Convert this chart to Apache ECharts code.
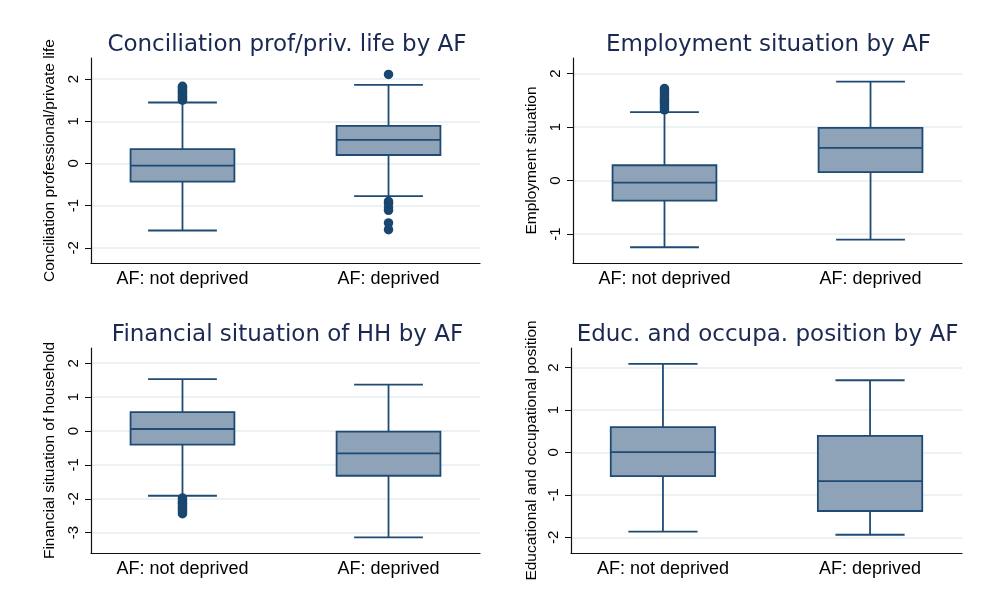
<!DOCTYPE html>
<html>
<head>
<meta charset="utf-8">
<script src="https://cdn.jsdelivr.net/npm/echarts@6/dist/echarts.min.js"></script>
<style>
html,body{margin:0;padding:0;background:#fff;}
#chart{width:996px;height:607px;}
</style>
</head>
<body>
<div id="chart"></div>
<script>
// ---- data ----
const categories = ['AF: not deprived', 'AF: deprived'];

const panelTitles = [
  'Conciliation prof/priv. life by AF',
  'Employment situation by AF',
  'Financial situation of HH by AF',
  'Educ. and occupa. position by AF'
];
const yTitles = [
  'Conciliation professional/private life',
  'Employment situation',
  'Financial situation of household',
  'Educational and occupational position'
];

// box stats per group: [lower whisker, Q1, median, Q3, upper whisker]
const concilStats = [[-1.59, -0.43, -0.05, 0.34, 1.445], [-0.775, 0.20, 0.56, 0.89, 1.865]];
const employStats = [[-1.246, -0.374, -0.037, 0.286, 1.277], [-1.103, 0.156, 0.611, 0.985, 1.85]];
const financeStats = [[-1.91, -0.40, 0.06, 0.56, 1.53], [-3.14, -1.32, -0.66, -0.02, 1.37]];
const educStats = [[-1.868, -0.558, 0.008, 0.595, 2.085], [-1.94, -1.38, -0.675, 0.39, 1.70]];

// outside values per group
const concilOutliers = [
  [1.50, 1.53, 1.56, 1.59, 1.62, 1.65, 1.68, 1.71, 1.74, 1.77, 1.80, 1.83],
  [2.11, -0.90, -0.95, -1.05, -1.11, -1.41, -1.57]
];
const employOutliers = [
  [1.32, 1.36, 1.40, 1.44, 1.48, 1.52, 1.56, 1.60, 1.64, 1.68, 1.72],
  []
];
const financeOutliers = [
  [-1.98, -2.03, -2.08, -2.13, -2.18, -2.23, -2.28, -2.33, -2.38, -2.44],
  []
];
const educOutliers = [[], []];

// y tick labels per panel
const concilTicks = [-2, -1, 0, 1, 2];
const employTicks = [-1, 0, 1, 2];
const financeTicks = [-3, -2, -1, 0, 1, 2];
const educTicks = [-2, -1, 0, 1, 2];

// y axis ranges per panel
const concilRange = [-2.36, 2.5];
const employRange = [-1.54, 2.29];
const financeRange = [-3.6, 2.45];
const educRange = [-2.37, 2.46];

// ---- layout & style ----
const stats = [concilStats, employStats, financeStats, educStats];
const outliers = [concilOutliers, employOutliers, financeOutliers, educOutliers];
const ticks = [concilTicks, employTicks, financeTicks, educTicks];
const ranges = [concilRange, employRange, financeRange, educRange];

const grids = [
  {left: 91, top: 58, width: 389, height: 205},
  {left: 573, top: 58, width: 389, height: 205},
  {left: 91, top: 348, width: 389, height: 205},
  {left: 571, top: 348, width: 391, height: 205}
];
const titlePos = [[287, 32], [768.5, 32], [287.5, 322], [767.5, 322]];
const nameGaps = [33, 33, 33, 31];

const TITLE_COLOR = '#1a2852';
const BOX_FILL = '#8fa3b8';
const BOX_LINE = '#1f4a73';
const DOT = '#1a476f';
const GRIDLINE = '#e6eef0';
const AXIS = '#111111';

function renderBox(params, api) {
  const x = api.value(0);
  const lo = api.value(1), q1 = api.value(2), med = api.value(3), q3 = api.value(4), hi = api.value(5);
  const hb = 0.252, hc = 0.167;
  const tl = api.coord([x - hb, q3]);
  const br = api.coord([x + hb, q1]);
  const mL = api.coord([x - hb, med]), mR = api.coord([x + hb, med]);
  const pHi = api.coord([x, hi]), pQ3 = api.coord([x, q3]);
  const pLo = api.coord([x, lo]), pQ1 = api.coord([x, q1]);
  const cHiL = api.coord([x - hc, hi]), cHiR = api.coord([x + hc, hi]);
  const cLoL = api.coord([x - hc, lo]), cLoR = api.coord([x + hc, lo]);
  const ls = {stroke: BOX_LINE, lineWidth: 1.8};
  return {
    type: 'group',
    children: [
      {type: 'line', shape: {x1: pHi[0], y1: pHi[1], x2: pQ3[0], y2: pQ3[1]}, style: ls},
      {type: 'line', shape: {x1: pLo[0], y1: pLo[1], x2: pQ1[0], y2: pQ1[1]}, style: ls},
      {type: 'line', shape: {x1: cHiL[0], y1: cHiL[1], x2: cHiR[0], y2: cHiR[1]}, style: ls},
      {type: 'line', shape: {x1: cLoL[0], y1: cLoL[1], x2: cLoR[0], y2: cLoR[1]}, style: ls},
      {type: 'rect', shape: {x: tl[0], y: tl[1], width: br[0] - tl[0], height: br[1] - tl[1]},
        style: {fill: BOX_FILL, stroke: BOX_LINE, lineWidth: 1.8}},
      {type: 'line', shape: {x1: mL[0], y1: mL[1], x2: mR[0], y2: mR[1]}, style: ls}
    ]
  };
}

const option = {
  backgroundColor: '#ffffff',
  animation: false,
  title: panelTitles.map((t, i) => ({
    text: t,
    left: titlePos[i][0],
    top: titlePos[i][1],
    textAlign: 'center',
    padding: 0,
    textStyle: {fontFamily: 'DejaVu Sans', fontSize: 23, fontWeight: 'normal', color: TITLE_COLOR, lineHeight: 26}
  })),
  grid: grids.map(g => Object.assign({containLabel: false}, g)),
  xAxis: grids.map((g, i) => ({
    gridIndex: i,
    type: 'value',
    min: 0.556,
    max: 2.444,
    axisLine: {show: true, onZero: false, lineStyle: {color: AXIS, width: 1.2}},
    axisTick: {show: false},
    splitLine: {show: false},
    axisLabel: {
      customValues: [1, 2],
      margin: 7,
      fontFamily: 'Liberation Sans',
      fontSize: 18,
      color: '#000',
      formatter: v => categories[Math.round(v) - 1] || ''
    }
  })),
  yAxis: grids.map((g, i) => ({
    gridIndex: i,
    type: 'value',
    min: ranges[i][0],
    max: ranges[i][1],
    name: yTitles[i],
    nameLocation: 'middle',
    nameRotate: 90,
    nameGap: nameGaps[i],
    nameTextStyle: {fontFamily: 'Liberation Sans', fontSize: 15.5, color: '#000'},
    axisLine: {show: true, onZero: false, lineStyle: {color: AXIS, width: 1.2}},
    axisTick: {show: true, customValues: ticks[i], length: 6, lineStyle: {color: AXIS, width: 1}},
    splitLine: {show: true, lineStyle: {color: GRIDLINE, width: 1.5}},
    axisLabel: {
      customValues: ticks[i],
      rotate: 90,
      margin: 10,
      fontFamily: 'Liberation Sans',
      fontSize: 15,
      color: '#000'
    }
  })),
  series: []
};

stats.forEach((st, i) => {
  option.series.push({
    type: 'custom',
    xAxisIndex: i,
    yAxisIndex: i,
    renderItem: renderBox,
    encode: {x: 0, y: [1, 2, 3, 4, 5]},
    data: st.map((s, j) => [j + 1].concat(s)),
    z: 2
  });
  const pts = [];
  outliers[i].forEach((arr, j) => arr.forEach(v => pts.push([j + 1, v])));
  option.series.push({
    type: 'scatter',
    xAxisIndex: i,
    yAxisIndex: i,
    symbol: 'circle',
    symbolSize: 9.5,
    itemStyle: {color: DOT, opacity: 1},
    data: pts,
    z: 3
  });
});

const chart = echarts.init(document.getElementById('chart'), null, {renderer: 'canvas'});
chart.setOption(option);
</script>
</body>
</html>
